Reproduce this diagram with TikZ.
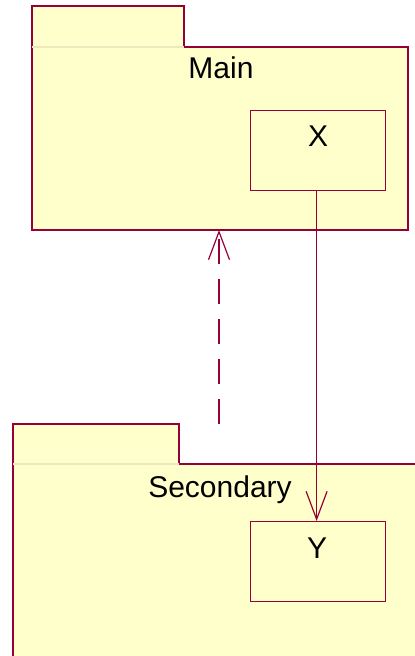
\documentclass[tikz,border=0pt]{standalone}
\usepackage{fontspec}
\setmainfont{Liberation Sans}
\usetikzlibrary{arrows.meta}
\definecolor{pkgline}{RGB}{150,0,56}
\definecolor{pkgfill}{RGB}{255,255,204}
\definecolor{tabrule}{RGB}{238,232,190}

\begin{document}
\begin{tikzpicture}[x=0.5pt,y=-0.5pt,line width=0.6pt,
  cls/.style={draw=pkgline, fill=pkgfill, inner sep=0pt, anchor=north west,
    minimum width=67.5pt, minimum height=40pt},
  title/.style={font=\fontsize{15}{18}\selectfont, anchor=base, inner sep=0pt},
  dep/.style={draw=pkgline, -{Straight Barb[length=14pt,width=10.5pt]}}]
\clip (0,0) rectangle (415,656);
% package Main
\filldraw[fill=pkgfill, draw=pkgline] (32,6) -- (184,6) -- (184,47) -- (408,47) -- (408,230) -- (32,230) -- cycle;
\draw[tabrule] (32,47) -- (184,47);
\node[title] (mainName) at (221,79) {Main};
\node[cls] (X) at (250,110) {};
\node[title] (xName) at (318,147) {X};
\coordinate (mainBottom) at (219,230);
% package Secondary
\filldraw[fill=pkgfill, draw=pkgline] (13,424) -- (179,424) -- (179,464) -- (420,464) -- (420,662) -- (13,662) -- cycle;
\draw[tabrule] (13,464) -- (179,464);
\node[title] (secName) at (220,497) {Secondary};
\node[cls] (Y) at (250,521) {};
\node[title] (yName) at (317,558) {Y};
\coordinate (secTop) at (219,424);
% dependencies
\draw[dep, dash pattern=on 12.5pt off 7.5pt] (secTop) -- (mainBottom);
\draw[dep] ([xshift=-0.75pt]X.south) -- ([xshift=-0.75pt]Y.north);
\end{tikzpicture}
\end{document}
